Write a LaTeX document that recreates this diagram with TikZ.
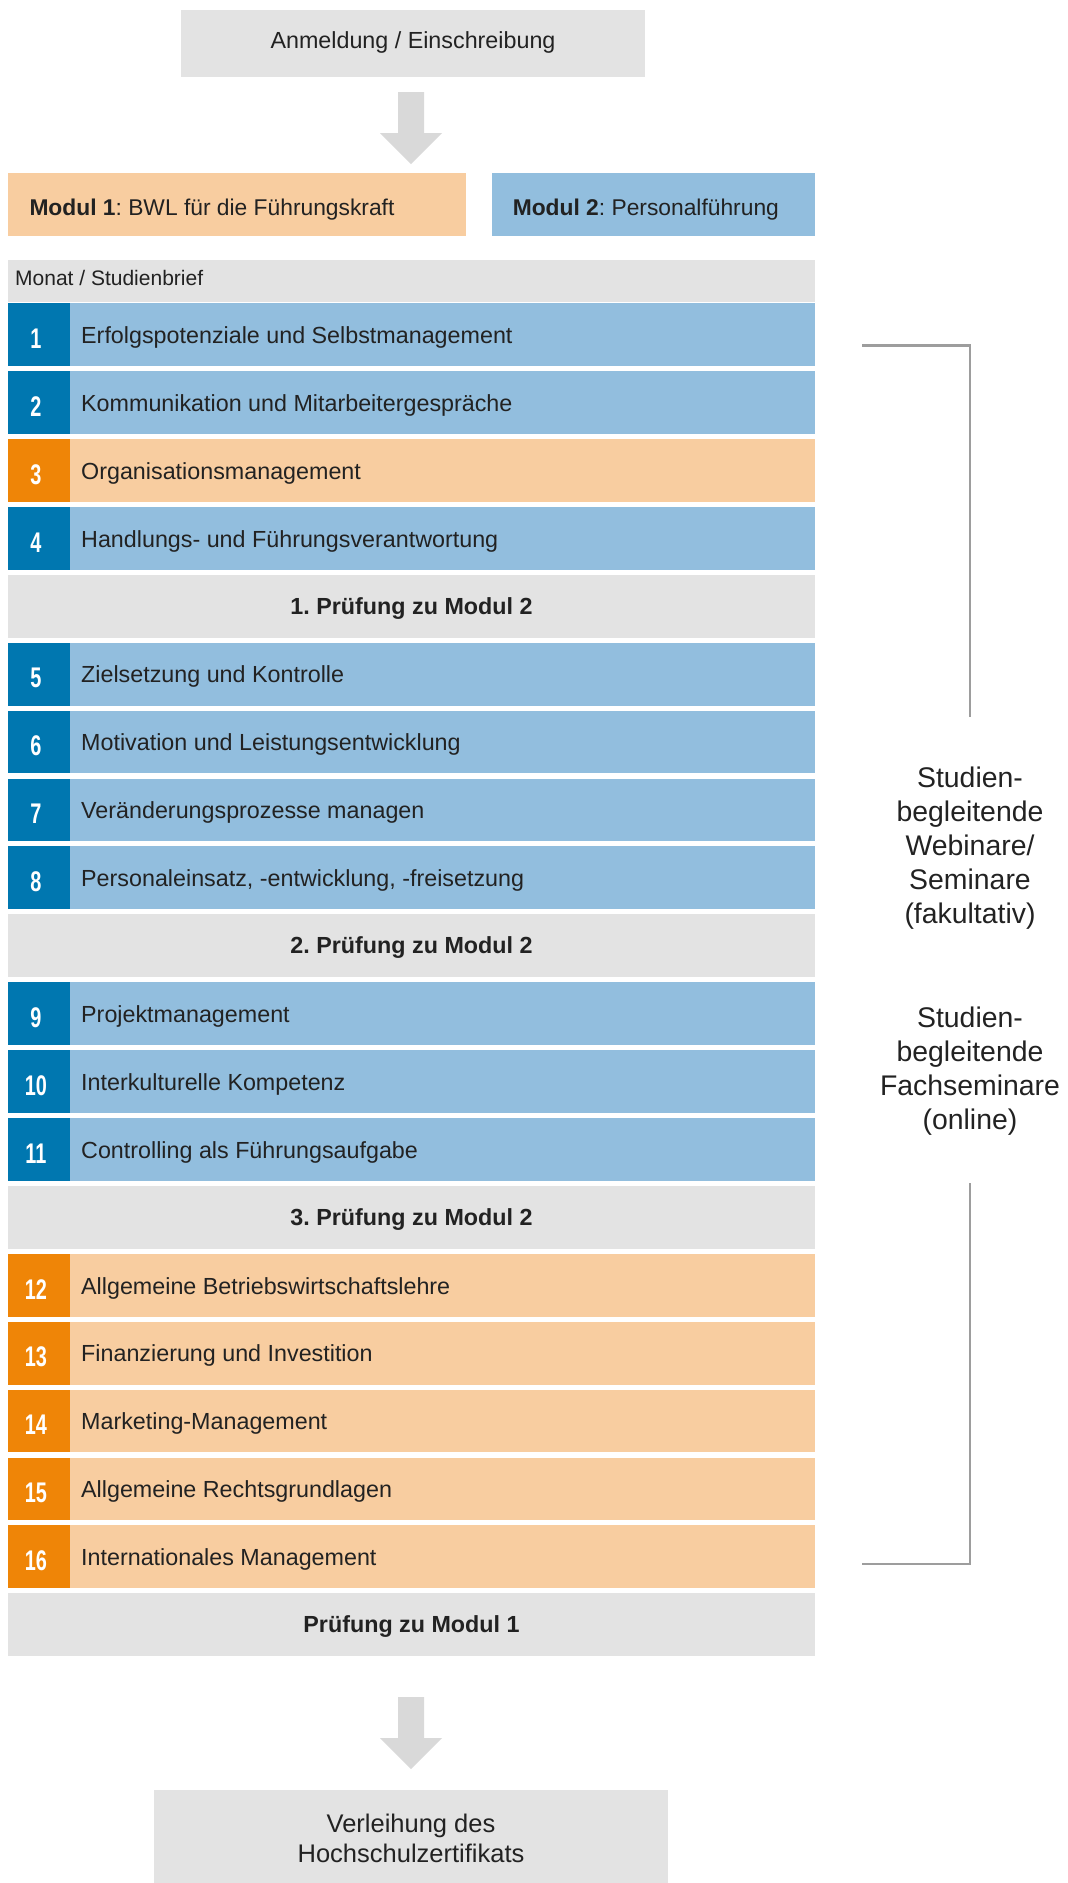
\documentclass[tikz,border=0pt]{standalone}
\usepackage{fontspec}
\setmainfont{Liberation Sans}
\usetikzlibrary{calc}
\frenchspacing
\definecolor{lblue}{HTML}{92BEDE}
\definecolor{dblue}{HTML}{0077B0}
\definecolor{lorange}{HTML}{F8CDA0}
\definecolor{dorange}{HTML}{EF8507}
\definecolor{lgrey}{HTML}{E3E3E3}
\definecolor{arrowgrey}{HTML}{D9D9D9}
\definecolor{bracketgrey}{HTML}{9D9D9D}
\definecolor{txt}{HTML}{222222}
\newcommand\studrow[6]{%
  \pgfmathsetmacro\rt{303+67.9*#2}%
  \node[rowbox,fill=#3] (#1) at (8,\rt) {};
  \node[numbox,fill=#4] (#1n) at (8,\rt) {};
  \node[numtxt] (#1d) at (36,\rt+45.4) {\scalebox{0.7}[1]{#5}};
  \node[rowtxt] (#1t) at (81,\rt+40.4) {#6};
}
\newcommand\pruefrow[3]{%
  \pgfmathsetmacro\rt{303+67.9*#2}%
  \node[rowbox,fill=lgrey] (#1) at (8,\rt) {};
  \node[rowtxt,anchor=base,font=\fontsize{23.3}{28}\selectfont\bfseries] (#1t) at (411.5,\rt+39.4) {#3};
}
\begin{document}
\frenchspacing
\begin{tikzpicture}[x=1pt,y=-1pt,
  rowbox/.style={anchor=north west,minimum width=807pt,minimum height=62.8pt,inner sep=0pt,draw=none},
  numbox/.style={anchor=north west,minimum width=62pt,minimum height=62.8pt,inner sep=0pt,draw=none},
  numtxt/.style={anchor=base,inner sep=0pt,text=white,font=\fontsize{28.4}{30}\selectfont\bfseries},
  rowtxt/.style={anchor=base west,inner sep=0pt,text=txt,font=\fontsize{23.3}{28}\selectfont},
  greybox/.style={fill=lgrey,draw=none,inner sep=0pt,anchor=north west},
  blockarrow/.style={fill=arrowgrey,draw=none},
  bracket/.style={draw=bracketgrey,line width=2.4pt},
  sidetxt/.style={anchor=north,inner sep=0pt,text=txt,align=center,font=\fontsize{28.4}{34}\selectfont}
]
\useasboundingbox (0,0) rectangle (1068,1883);

% top box
\node[greybox,minimum width=464pt,minimum height=67pt] (top) at (181,10) {};
\node[rowtxt,anchor=base] (topt) at (413,48.3) {Anmeldung / Einschreibung};

% arrow 1
\fill[blockarrow] (398,92) -- (424,92) -- (424,133) -- (442,133) -- (411,164) -- (380,133) -- (398,133) -- cycle;

% module boxes
\node[greybox,fill=lorange,minimum width=458pt,minimum height=63pt] (m1) at (8,173) {};
\node[rowtxt,font=\fontsize{22.8}{27}\selectfont] (m1t) at (29.3,215) {\textbf{Modul 1}: BWL für die Führungskraft};
\node[greybox,fill=lblue,minimum width=323.5pt,minimum height=63pt] (m2) at (491.5,173) {};
\node[rowtxt,font=\fontsize{22.8}{27}\selectfont] (m2t) at (512.6,215) {\textbf{Modul 2}: Personalführung};

% header
\node[greybox,minimum width=807pt,minimum height=42pt] (hd) at (8,260) {};
\node[rowtxt,font=\fontsize{21}{25}\selectfont] (hdt) at (15,285) {Monat / Studienbrief};

% rows
\studrow{r1}{0}{lblue}{dblue}{1}{Erfolgspotenziale und Selbstmanagement}
\studrow{r2}{1}{lblue}{dblue}{2}{Kommunikation und Mitarbeitergespräche}
\studrow{r3}{2}{lorange}{dorange}{3}{Organisationsmanagement}
\studrow{r4}{3}{lblue}{dblue}{4}{Handlungs- und Führungsverantwortung}
\pruefrow{p1}{4}{1. Prüfung zu Modul 2}
\studrow{r5}{5}{lblue}{dblue}{5}{Zielsetzung und Kontrolle}
\studrow{r6}{6}{lblue}{dblue}{6}{Motivation und Leistungsentwicklung}
\studrow{r7}{7}{lblue}{dblue}{7}{Veränderungsprozesse managen}
\studrow{r8}{8}{lblue}{dblue}{8}{Personaleinsatz, -entwicklung, -freisetzung}
\pruefrow{p2}{9}{2. Prüfung zu Modul 2}
\studrow{r9}{10}{lblue}{dblue}{9}{Projektmanagement}
\studrow{r10}{11}{lblue}{dblue}{10}{Interkulturelle Kompetenz}
\studrow{r11}{12}{lblue}{dblue}{11}{Controlling als Führungsaufgabe}
\pruefrow{p3}{13}{3. Prüfung zu Modul 2}
\studrow{r12}{14}{lorange}{dorange}{12}{Allgemeine Betriebswirtschaftslehre}
\studrow{r13}{15}{lorange}{dorange}{13}{Finanzierung und Investition}
\studrow{r14}{16}{lorange}{dorange}{14}{Marketing-Management}
\studrow{r15}{17}{lorange}{dorange}{15}{Allgemeine Rechtsgrundlagen}
\studrow{r16}{18}{lorange}{dorange}{16}{Internationales Management}
\pruefrow{p4}{19}{Prüfung zu Modul 1}

% arrow 2
\fill[blockarrow] (398,1697) -- (424,1697) -- (424,1738) -- (442,1738) -- (411,1769) -- (380,1738) -- (398,1738) -- cycle;

% bottom box
\node[greybox,minimum width=514pt,minimum height=93pt] (bot) at (154,1790) {};
\node[sidetxt,font=\fontsize{25.5}{30.7}\selectfont] (bott) at (411,1813.4) {Verleihung des\\Hochschulzertifikats};

% side texts
\node[sidetxt] (s1) at (970,766.8) {Studien-\\begleitende\\Webinare/\\Seminare\\(fakultativ)};
\node[sidetxt] (s2) at (970,1006.9) {Studien-\\begleitende\\Fachseminare\\(online)};

% bracket
\coordinate (bt) at (862,345.5);
\coordinate (bb) at (862,1564);
\draw[bracket] (bt) -- (970,345.5) -- (970,717);
\draw[bracket] (970,1183) -- (970,1564) -- (bb);
\end{tikzpicture}
\end{document}
